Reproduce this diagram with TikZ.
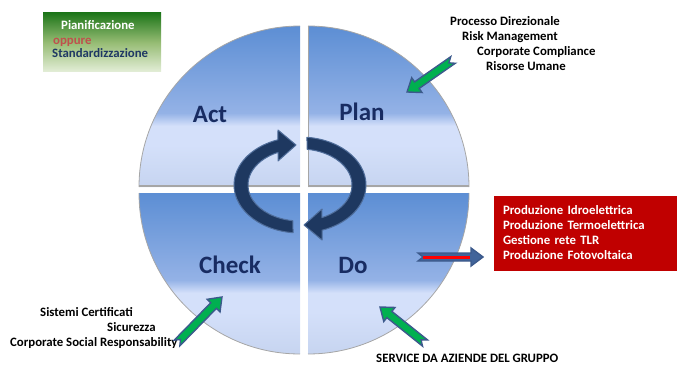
\documentclass[tikz,border=0pt]{standalone}
\usepackage{fontspec}
\setmainfont{Carlito}
\usetikzlibrary{positioning, calc}
\definecolor{qblue}{RGB}{92,142,212}
\definecolor{qmid}{RGB}{148,178,230}
\definecolor{qlight}{RGB}{212,224,250}
\definecolor{qlow}{RGB}{198,212,240}
\definecolor{edgegray}{RGB}{166,166,166}
\definecolor{stagenavy}{RGB}{24,44,98}
\definecolor{cyclenavy}{RGB}{30,56,96}
\definecolor{cycleedge}{RGB}{80,110,155}
\definecolor{arrowgreen}{RGB}{0,176,80}
\definecolor{arrowedge}{RGB}{60,90,140}
\definecolor{arrowblue}{RGB}{65,100,154}
\definecolor{outred}{RGB}{192,0,0}
\definecolor{boxgreen}{RGB}{30,118,26}
\definecolor{boxmid}{RGB}{150,188,116}
\definecolor{boxpale}{RGB}{228,238,216}
\definecolor{oppred}{RGB}{192,80,77}
\definecolor{stdnavy}{RGB}{31,56,100}

\pgfdeclareverticalshading{quadfill}{100bp}{color(0bp)=(qlow); color(25bp)=(qlow); color(38bp)=(qlight); color(44bp)=(qlight); color(48bp)=(qmid); color(75bp)=(qblue); color(100bp)=(qblue)}

\makeatletter
\newcommand{\fatarrow}[3][arrowgreen]{%
  \pgfmathanglebetweenpoints{\pgfpointanchor{#2}{center}}{\pgfpointanchor{#3}{center}}%
  \let\faang\pgfmathresult
  \pgfpointdiff{\pgfpointanchor{#2}{center}}{\pgfpointanchor{#3}{center}}%
  \pgfmathveclen{\pgf@x}{\pgf@y}%
  \let\falen\pgfmathresult
  \begin{scope}[shift={(#2)}, rotate=\faang]
    \filldraw[blockarrow, fill=#1] (0,4) -- (\falen-12,4) -- (\falen-12,9) -- (\falen,0)
      -- (\falen-12,-9) -- (\falen-12,-4) -- (0,-4) -- (5,0) -- cycle;
  \end{scope}}
\makeatother

\begin{document}
\begin{tikzpicture}[x=1pt, y=1pt,
    quad/.style={shading=quadfill},
    quadedge/.style={draw=edgegray, line width=0.8pt},
    quadshadow/.style={draw=edgegray, line width=2.5pt},
    stage/.style={font=\fontsize{25}{30}\selectfont\bfseries, text=stagenavy, inner sep=0pt, anchor=base},
    note/.style={font=\fontsize{12.8}{15}\selectfont\bfseries, inner sep=0pt, anchor=base west},
    cycarrow/.style={fill=cyclenavy, draw=cycleedge, line width=1pt, line join=round},
    blockarrow/.style={draw=arrowedge, line width=1.4pt, line join=miter},
    redstripe/.style={draw=red, line width=3pt, shorten <=5pt, shorten >=13pt}
]
\useasboundingbox (0,0) rectangle (678,365);

\foreach \cx/\cy/\a in {300/178/90, 308/178/0, 300/172/180, 308/172/270}{
  \shade[quad] (\cx,\cy) -- ++(\a:161) arc[start angle=\a, delta angle=90, radius=161] -- cycle;
  \draw[quadedge] ($(\cx,\cy)+(\a:161)$) arc[start angle=\a, delta angle=90, radius=161];
}
\draw[quadshadow] (139,179) -- (300,179);
\draw[quadshadow] (308,179) -- (469,179);
\draw[quadedge] (308,178) -- (308,339);

\node[stage] (act) at (210,243) {Act};
\node[stage] (plan) at (362,244) {Plan};
\node[stage] (check) at (230,92) {Check};
\node[stage] (do) at (353,92) {Do};

\coordinate (cyc) at (300,180);
\begin{scope}[shift={(cyc)}]
\foreach \r in {0,180}
  \filldraw[cycarrow, rotate=\r] (264:66 and 48) arc[start angle=264, end angle=109.5, x radius=66, y radius=48]
    -- (-22,55) -- (-4,40) -- (-22,24) -- (115:52 and 36) arc[start angle=115, end angle=262, x radius=52, y radius=36] -- cycle;
\end{scope}

\node[top color=boxgreen, bottom color=boxpale, middle color=boxmid, minimum width=118, minimum height=59, inner sep=0pt] (stdbox) at (102,322.5) {};
\node[note, text=white] (pian) at (61,335) {Pianificazione};
\node[note, text=oppred] (opp) at (53,320) {oppure};
\node[note, text=stdnavy] (std) at (52,307) {Standardizzazione};

\node[note] (dir) at (450,339) {Processo Direzionale};
\node[note] (risk) at (462,324) {Risk Management};
\node[note] (comp) at (477,309) {Corporate Compliance};
\node[note] (hr) at (486,294) {Risorse Umane};

\node[fill=outred, text=white, font=\fontsize{12.8}{15}\selectfont\bfseries, align=left, text width=165, inner xsep=9, inner ysep=0, minimum height=75] (prod) at (585.5,132)
  {Produzione Idroelettrica\\Produzione Termoelettrica\\Gestione rete TLR\\Produzione Fotovoltaica};

\node[note] (cert) at (40,49) {Sistemi Certificati};
\node[note] (sic) at (107,34) {Sicurezza};
\node[note] (csr) at (10,19) {Corporate Social Responsability};
\node[note] (serv) at (376,2.5) {SERVICE DA AZIENDE DEL GRUPPO};

\coordinate (plantail) at (453,305);
\coordinate (plantip) at (407,273);
\coordinate (checktail) at (177,22);
\coordinate (checktip) at (222,68);
\coordinate (dotail) at (425,22);
\coordinate (dotip) at (380,58);
\coordinate (outtail) at (418,108);
\coordinate (outtip) at (483,108);
\fatarrow{plantail}{plantip}
\fatarrow{checktail}{checktip}
\fatarrow{dotail}{dotip}
\fatarrow[arrowblue]{outtail}{outtip}
\draw[redstripe] (outtail) -- (outtip);
\end{tikzpicture}
\end{document}
